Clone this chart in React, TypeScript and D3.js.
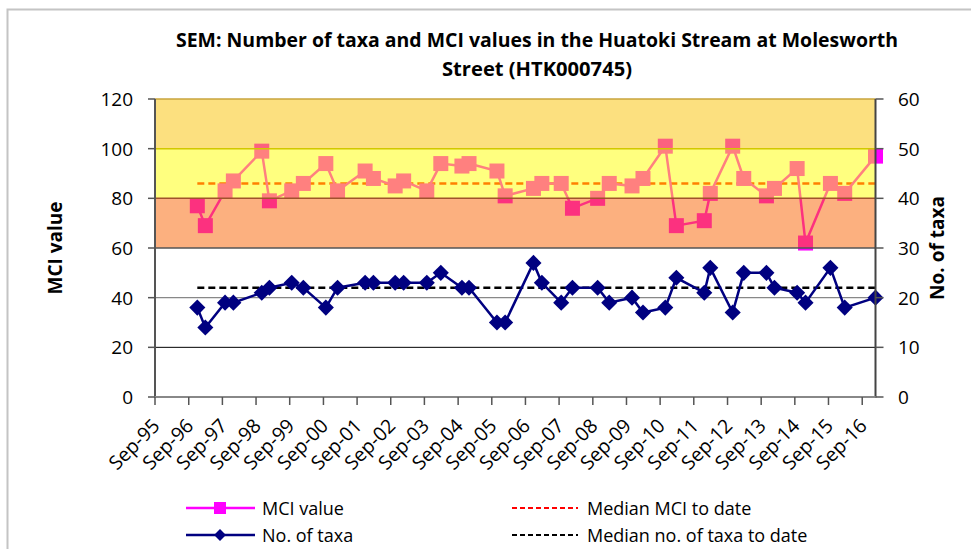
import React from "react";
import * as d3 from "d3";

const sampleDates = [
  "1996-12-03","1997-02-28","1997-09-30","1997-12-29","1998-11-02","1999-01-24","1999-09-23","2000-01-27",
  "2000-09-27","2001-02-01","2001-11-27","2002-02-25","2002-10-19","2003-01-19","2003-09-27","2004-02-26",
  "2004-10-12","2004-12-28","2005-10-27","2006-01-24","2006-11-27","2007-02-26","2007-09-24","2008-01-24",
  "2008-10-23","2009-02-26","2009-10-31","2010-02-27","2010-10-27","2011-02-24","2011-12-24","2012-02-27",
  "2012-10-27","2013-02-24","2013-10-28","2014-01-23","2014-09-26","2014-12-26","2015-09-22","2016-02-24",
  "2017-01-23",
];
const mciValues = [
  77, 69, 83, 87, 99, 79, 83, 86, 94, 83, 91, 88, 85, 87, 83, 94, 93, 94, 91, 81, 84, 86, 86, 76, 80, 86,
  85, 88, 101, 69, 71, 82, 101, 88, 81, 84, 92, 62, 86, 82, 97,
];
const taxaValues = [
  18, 14, 19, 19, 21, 22, 23, 22, 18, 22, 23, 23, 23, 23, 23, 25, 22, 22, 15, 15, 27, 23, 19, 22, 22, 19,
  20, 17, 18, 24, 21, 26, 17, 25, 25, 22, 21, 19, 26, 18, 20,
];
const medianMci = 86;
const medianTaxa = 22;
const xTickLabels = [
  "Sep-95","Sep-96","Sep-97","Sep-98","Sep-99","Sep-00","Sep-01","Sep-02","Sep-03","Sep-04","Sep-05",
  "Sep-06","Sep-07","Sep-08","Sep-09","Sep-10","Sep-11","Sep-12","Sep-13","Sep-14","Sep-15","Sep-16",
];
const axisStart = "1995-09-01";
const mciTicks = [0, 20, 40, 60, 80, 100, 120];
const taxaTicks = [0, 10, 20, 30, 40, 50, 60];
const bands = [
  { from: 100, to: 120, color: "#F9C100", edge: "#C8A43C" },
  { from: 80, to: 100, color: "#FFFF00", edge: "#D2C800" },
  { from: 60, to: 80, color: "#F96100", edge: "#A0522D" },
];
const titleLines = [
  "SEM: Number of taxa and MCI values in the Huatoki Stream at Molesworth",
  "Street (HTK000745)",
];

const FONT = "'Open Sans', 'DejaVu Sans', sans-serif";

export default function App() {
  const W = 971, H = 549;
  const L = 155, R = 875.5, T = 99, B = 397;
  const parse = d3.timeParse("%Y-%m-%d");
  const tickParse = d3.timeParse("%b-%y");
  const dates = sampleDates.map((s) => parse(s) as Date);
  const x = d3.scaleTime().domain([parse(axisStart) as Date, dates[dates.length - 1]]).range([L, R]);
  const yL = d3.scaleLinear().domain([0, 120]).range([B, T]);
  const yR = d3.scaleLinear().domain([0, 60]).range([B, T]);

  const mciLine = d3.line<number>().x((_, i) => x(dates[i])).y((v) => yL(v));
  const taxaLine = d3.line<number>().x((_, i) => x(dates[i])).y((v) => yR(v));
  const sq = 15;
  const dia = d3.symbol().type(d3.symbolDiamond2).size(165)();

  const x0 = x(dates[0]);

  return (
    <svg width={W} height={H} style={{ position: "absolute", left: 0, top: 0 }} fontFamily={FONT}>
      <rect x={0} y={0} width={W} height={H} fill="#fff" />
      <path d={`M7.5,${H} V9.5 H${W}`} fill="none" stroke="#c4c4c4" strokeWidth={2} />

      {titleLines.map((t, i) => (
        <text key={i} x={537} y={40 + i * 29} textAnchor="middle" dominantBaseline="central"
          fontSize={19} fontWeight="bold" fill="#000"
          textLength={i === 0 ? 722 : 190} lengthAdjust="spacingAndGlyphs">{t}</text>
      ))}

      {/* gridlines */}
      <line x1={L} x2={R} y1={yL(20)} y2={yL(20)} stroke="#000" strokeWidth={1} />
      <line x1={L} x2={R} y1={yL(40)} y2={yL(40)} stroke="#888" strokeWidth={1.2} />

      {/* medians */}
      <line x1={x0} x2={R} y1={yR(medianTaxa)} y2={yR(medianTaxa)} stroke="#000" strokeWidth={2.5} strokeDasharray="7,4" />
      <line x1={x0} x2={R} y1={yL(medianMci)} y2={yL(medianMci)} stroke="#FF0000" strokeWidth={2.5} strokeDasharray="7,4" />

      {/* taxa series */}
      <path d={taxaLine(taxaValues) || ""} fill="none" stroke="#000080" strokeWidth={2.5} />
      {taxaValues.map((v, i) => (
        <path key={i} d={dia || ""} transform={`translate(${x(dates[i])},${yR(v)})`} fill="#000080" />
      ))}

      {/* MCI series */}
      <path d={mciLine(mciValues) || ""} fill="none" stroke="#FF00FF" strokeWidth={2.5} />
      {mciValues.map((v, i) => (
        <rect key={i} x={x(dates[i]) - sq / 2} y={yL(v) - sq / 2} width={sq} height={sq} fill="#FF00FF" />
      ))}

      {/* translucent bands over the data */}
      {bands.map((b, i) => (
        <rect key={i} x={L} y={yL(b.to)} width={R - L} height={yL(b.from) - yL(b.to)} fill={b.color} fillOpacity={0.5} />
      ))}
      {bands.map((b, i) => (
        <line key={i} x1={L} x2={R} y1={yL(b.to)} y2={yL(b.to)} stroke={b.edge} strokeWidth={1.5} />
      ))}
      <line x1={L} x2={R} y1={yL(60)} y2={yL(60)} stroke="#555" strokeWidth={1.5} />

      {/* axes */}
      <line x1={L} x2={L} y1={T} y2={B} stroke="#555" strokeWidth={2} />
      <line x1={R} x2={R} y1={T} y2={B} stroke="#444" strokeWidth={2} />
      <line x1={L - 1} x2={R + 1} y1={B} y2={B} stroke="#888" strokeWidth={2} />

      {mciTicks.map((t) => (
        <g key={t}>
          <line x1={L - 7} x2={L} y1={yL(t)} y2={yL(t)} stroke="#555" strokeWidth={1.5} />
          <text x={133} y={yL(t)} textAnchor="end" dominantBaseline="central" fontSize={19} fill="#000">{t}</text>
        </g>
      ))}
      {taxaTicks.map((t) => (
        <g key={t}>
          <line x1={R} x2={R + 8} y1={yR(t)} y2={yR(t)} stroke="#555" strokeWidth={1.5} />
          <text x={898} y={yR(t)} textAnchor="start" dominantBaseline="central" fontSize={19} fill="#000">{t}</text>
        </g>
      ))}
      {xTickLabels.map((lab) => {
        const tx = x(tickParse(lab) as Date);
        return (
          <g key={lab}>
            <line x1={tx} x2={tx} y1={B} y2={B + 8} stroke="#555" strokeWidth={1.5} />
            <text transform={`translate(${tx + 6},${B + 30}) rotate(-45)`} textAnchor="end" fontSize={19.5} fill="#000">{lab}</text>
          </g>
        );
      })}

      <text transform={`translate(55,${(T + B) / 2}) rotate(-90)`} textAnchor="middle" dominantBaseline="central"
        fontSize={19} fontWeight="bold">MCI value</text>
      <text transform={`translate(937,${(T + B) / 2}) rotate(-90)`} textAnchor="middle" dominantBaseline="central"
        fontSize={19} fontWeight="bold">No. of taxa</text>

      {/* legend */}
      <g>
        <line x1={186} x2={255} y1={508} y2={508} stroke="#FF00FF" strokeWidth={2.5} />
        <rect x={220 - 6} y={508 - 6} width={12} height={12} fill="#FF00FF" />
        <text x={262} y={508} dominantBaseline="central" fontSize={18}>MCI value</text>
        <line x1={186} x2={255} y1={535} y2={535} stroke="#000080" strokeWidth={2.5} />
        <path d={d3.symbol().type(d3.symbolDiamond2).size(90)() || ""} transform="translate(220,535)" fill="#000080" />
        <text x={262} y={535} dominantBaseline="central" fontSize={18}>No. of taxa</text>
        <line x1={512} x2={578} y1={508} y2={508} stroke="#FF0000" strokeWidth={2} strokeDasharray="5,3" />
        <text x={587} y={508} dominantBaseline="central" fontSize={18}>Median MCI to date</text>
        <line x1={512} x2={578} y1={535} y2={535} stroke="#000" strokeWidth={2} strokeDasharray="5,3" />
        <text x={587} y={535} dominantBaseline="central" fontSize={18}>Median no. of taxa to date</text>
      </g>
    </svg>
  );
}
